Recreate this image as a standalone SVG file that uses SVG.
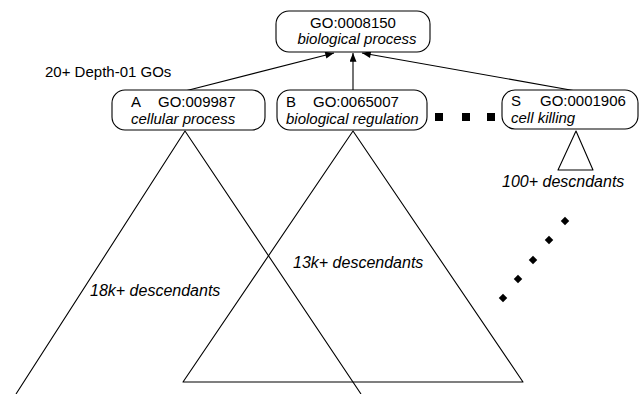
<svg xmlns="http://www.w3.org/2000/svg" width="643" height="394" viewBox="0 0 643 394">
<defs>
<marker id="arr" viewBox="0 0 10 8" refX="10" refY="4" markerWidth="10" markerHeight="7" markerUnits="userSpaceOnUse" orient="auto"><path d="M0,0 L10,4 L0,8 z" fill="#000"/></marker>
</defs>
<style>
.box{fill:#fff;stroke:#000;stroke-width:1.1}
.t{font-family:"Liberation Sans",Arial,sans-serif;font-size:15px;fill:#000}
.i{font-style:italic}
.d{font-size:16px}
.ln{stroke:#000;stroke-width:1.1;fill:none}
.tri{stroke:#000;stroke-width:1.1;fill:none;stroke-linejoin:round}
</style>
<rect width="643" height="394" fill="#fff"/>
<g id="triangles">
<path class="tri" d="M16,394 L185,131 L361,394"/>
<path class="tri" d="M183,382 L353,131 L523,382 Z"/>
<path class="tri" d="M558,170 L576,131 L593,170 Z"/>
</g>
<g id="connectors">
<line class="ln" x1="185" y1="91" x2="334" y2="53" marker-end="url(#arr)"/>
<line class="ln" x1="353" y1="91" x2="353" y2="53" marker-end="url(#arr)"/>
<line class="ln" x1="576" y1="91" x2="362" y2="53" marker-end="url(#arr)"/>
</g>
<g id="root">
<rect class="box" x="276" y="11" width="154" height="41" rx="13"/>
<text class="t" x="353" y="28" text-anchor="middle">GO:0008150</text>
<text class="t i" x="357" y="44" text-anchor="middle">biological process</text>
</g>
<g id="nodeA">
<rect class="box" x="112" y="90" width="153" height="40" rx="13"/>
<text class="t" x="131" y="107">A</text>
<text class="t" x="158" y="107">GO:009987</text>
<text class="t i" x="131" y="124">cellular process</text>
</g>
<g id="nodeB">
<rect class="box" x="277" y="90" width="150" height="40" rx="13"/>
<text class="t" x="286" y="107">B</text>
<text class="t" x="313" y="107">GO:0065007</text>
<text class="t i" x="286" y="124">biological regulation</text>
</g>
<g id="nodeS">
<rect class="box" x="502" y="90" width="136" height="39" rx="13"/>
<text class="t" x="511" y="106">S</text>
<text class="t" x="540" y="106">GO:0001906</text>
<text class="t i" x="511" y="123">cell killing</text>
</g>
<g id="ellipsis">
<rect x="435" y="113" width="8" height="8" fill="#000"/>
<rect x="462" y="113" width="8" height="8" fill="#000"/>
<rect x="487" y="113" width="8" height="8" fill="#000"/>
<g fill="#000">
<rect x="-3" y="-3" width="6" height="6" transform="translate(565,221) rotate(45)"/>
<rect x="-3" y="-3" width="6" height="6" transform="translate(549,240) rotate(45)"/>
<rect x="-3" y="-3" width="6" height="6" transform="translate(533,260) rotate(45)"/>
<rect x="-3" y="-3" width="6" height="6" transform="translate(518,279) rotate(45)"/>
<rect x="-3" y="-3" width="6" height="6" transform="translate(503,298) rotate(45)"/>
</g>
</g>
<g id="labels">
<text class="t" x="45" y="77">20+ Depth-01 GOs</text>
<text class="t i d" x="90" y="296">18k+ descendants</text>
<text class="t i d" x="293" y="268">13k+ descendants</text>
<text class="t i d" x="502" y="187">100+ descndants</text>
</g>
</svg>
